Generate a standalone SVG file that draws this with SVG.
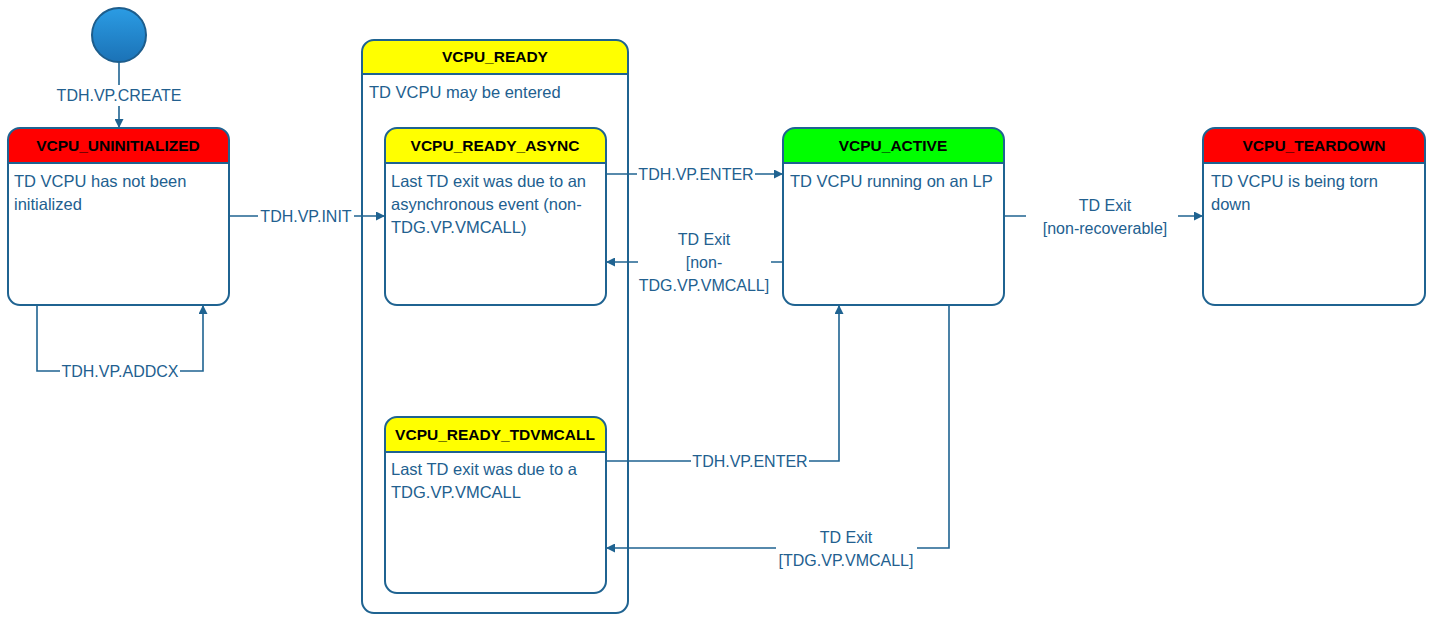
<svg xmlns="http://www.w3.org/2000/svg" width="1433" height="617" viewBox="0 0 1433 617">
<style>
.box{fill:none;stroke:#1f6391;stroke-width:2}
.bg{fill:#ffffff}
.div{stroke:#1f6391;stroke-width:2}
.red{fill:#ff0000}
.yel{fill:#ffff00}
.grn{fill:#00ff00}
.title{font-family:"Liberation Sans",Arial,sans-serif;font-size:15.5px;font-weight:bold;fill:#000;text-anchor:middle}
.body{font-family:"Liberation Sans",Arial,sans-serif;font-size:16.5px;fill:#22608f}
.lbl{font-family:"Liberation Sans",Arial,sans-serif;font-size:16px;fill:#22608f;text-anchor:middle}
.edge{fill:none;stroke:#1f6391;stroke-width:1.6}
.lb{fill:#ffffff}
</style>
<defs>
<linearGradient id="g" x1="0" y1="0" x2="0" y2="1">
<stop offset="0" stop-color="#2b9ce4"/>
<stop offset="1" stop-color="#1b72b6"/>
</linearGradient>
<marker id="ar" viewBox="0 0 10 10" refX="10" refY="5" markerWidth="10" markerHeight="9" markerUnits="userSpaceOnUse" orient="auto">
<path d="M0,0 L10,5 L0,10 z" fill="#1f6391"/>
</marker>
</defs>

<g id="start">
<circle cx="119" cy="35" r="27" fill="url(#g)" stroke="#1d5d8c" stroke-width="2"/>
</g>

<g id="connectors">
<path class="edge" d="M119,62 V128" marker-end="url(#ar)"/>
<rect class="lb" x="54" y="85" width="130" height="21"/>
<text class="lbl" x="119" y="101">TDH.VP.CREATE</text>

<path class="edge" d="M37,305 V371 H203 V305" marker-end="url(#ar)"/>
<rect class="lb" x="60" y="361" width="120" height="20"/>
<text class="lbl" x="120" y="377">TDH.VP.ADDCX</text>

<path class="edge" d="M229,216 H385" marker-end="url(#ar)"/>
<rect class="lb" x="258" y="206" width="96" height="20"/>
<text class="lbl" x="306" y="222">TDH.VP.INIT</text>

<path class="edge" d="M606,174 H783" marker-end="url(#ar)"/>
<rect class="lb" x="637" y="164" width="118" height="20"/>
<text class="lbl" x="696" y="180">TDH.VP.ENTER</text>

<path class="edge" d="M783,262 H606" marker-end="url(#ar)"/>
<rect class="lb" x="638" y="228" width="133" height="70"/>
<text class="lbl" x="704" y="245">TD Exit</text>
<text class="lbl" x="704" y="268">[non-</text>
<text class="lbl" x="704" y="291">TDG.VP.VMCALL]</text>

<path class="edge" d="M1004,216 H1203" marker-end="url(#ar)"/>
<rect class="lb" x="1026" y="194" width="152" height="46"/>
<text class="lbl" x="1105" y="211">TD Exit</text>
<text class="lbl" x="1105" y="234">[non-recoverable]</text>

<path class="edge" d="M606,461 H839 V305" marker-end="url(#ar)"/>
<rect class="lb" x="691" y="451" width="118" height="20"/>
<text class="lbl" x="750" y="467">TDH.VP.ENTER</text>

<path class="edge" d="M949,305 V548 H606" marker-end="url(#ar)"/>
<rect class="lb" x="776" y="526" width="141" height="46"/>
<text class="lbl" x="846" y="543">TD Exit</text>
<text class="lbl" x="846" y="566">[TDG.VP.VMCALL]</text>
</g>

<g id="vcpu_uninitialized">
<rect class="bg" x="8" y="128" width="221" height="177" rx="12"/>
<path class="red" d="M8,163 V140 A12,12 0 0 1 20,128 H217 A12,12 0 0 1 229,140 V163 Z"/>
<line class="div" x1="8" y1="163" x2="229" y2="163"/>
<rect class="box" x="8" y="128" width="221" height="177" rx="12"/>
<text class="title" x="118" y="151">VCPU_UNINITIALIZED</text>
<text class="body" x="14" y="187">TD VCPU has not been</text>
<text class="body" x="14" y="210">initialized</text>
</g>

<g id="vcpu_ready">
<path class="yel" d="M362,74 V52 A12,12 0 0 1 374,40 H616 A12,12 0 0 1 628,52 V74 Z"/>
<line class="div" x1="362" y1="74" x2="628" y2="74"/>
<rect class="box" x="362" y="40" width="266" height="573" rx="12"/>
<text class="title" x="495" y="62">VCPU_READY</text>
<text class="body" x="369" y="98">TD VCPU may be entered</text>
</g>

<g id="vcpu_ready_async">
<rect class="bg" x="385" y="128" width="221" height="177" rx="12"/>
<path class="yel" d="M385,163 V140 A12,12 0 0 1 397,128 H594 A12,12 0 0 1 606,140 V163 Z"/>
<line class="div" x1="385" y1="163" x2="606" y2="163"/>
<rect class="box" x="385" y="128" width="221" height="177" rx="12"/>
<text class="title" x="495" y="151">VCPU_READY_ASYNC</text>
<text class="body" x="391" y="187">Last TD exit was due to an</text>
<text class="body" x="391" y="210">asynchronous event (non-</text>
<text class="body" x="391" y="233">TDG.VP.VMCALL)</text>
</g>

<g id="vcpu_ready_tdvmcall">
<rect class="bg" x="385" y="417" width="221" height="176" rx="12"/>
<path class="yel" d="M385,452 V429 A12,12 0 0 1 397,417 H594 A12,12 0 0 1 606,429 V452 Z"/>
<line class="div" x1="385" y1="452" x2="606" y2="452"/>
<rect class="box" x="385" y="417" width="221" height="176" rx="12"/>
<text class="title" x="495" y="440">VCPU_READY_TDVMCALL</text>
<text class="body" x="391" y="475">Last TD exit was due to a</text>
<text class="body" x="391" y="498">TDG.VP.VMCALL</text>
</g>

<g id="vcpu_active">
<rect class="bg" x="783" y="128" width="221" height="177" rx="12"/>
<path class="grn" d="M783,163 V140 A12,12 0 0 1 795,128 H992 A12,12 0 0 1 1004,140 V163 Z"/>
<line class="div" x1="783" y1="163" x2="1004" y2="163"/>
<rect class="box" x="783" y="128" width="221" height="177" rx="12"/>
<text class="title" x="893" y="151">VCPU_ACTIVE</text>
<text class="body" x="790" y="187">TD VCPU running on an LP</text>
</g>

<g id="vcpu_teardown">
<rect class="bg" x="1203" y="128" width="222" height="177" rx="12"/>
<path class="red" d="M1203,163 V140 A12,12 0 0 1 1215,128 H1413 A12,12 0 0 1 1425,140 V163 Z"/>
<line class="div" x1="1203" y1="163" x2="1425" y2="163"/>
<rect class="box" x="1203" y="128" width="222" height="177" rx="12"/>
<text class="title" x="1314" y="151">VCPU_TEARDOWN</text>
<text class="body" x="1211" y="187">TD VCPU is being torn</text>
<text class="body" x="1211" y="210">down</text>
</g>
</svg>
